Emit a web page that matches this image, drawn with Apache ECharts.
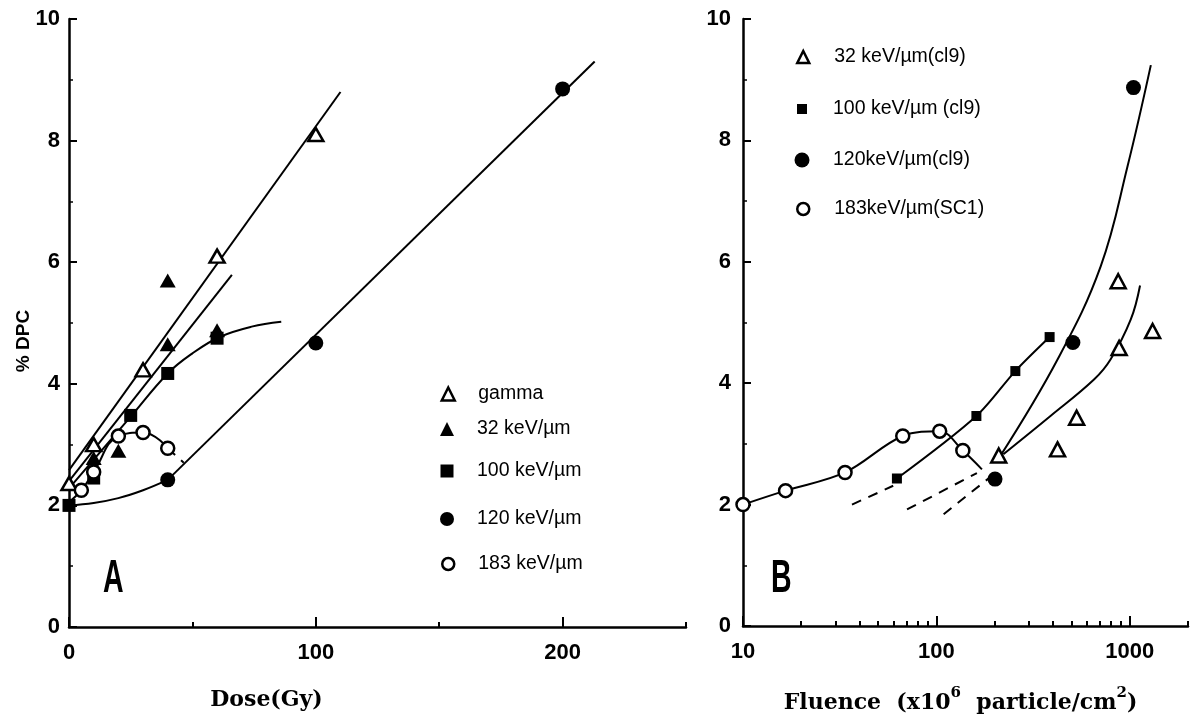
<!DOCTYPE html>
<html><head><meta charset="utf-8">
<script src="https://cdn.jsdelivr.net/npm/echarts@6/dist/echarts.min.js"></script>
<style>html,body{margin:0;padding:0;background:#fff}#c{width:1192px;height:719px}</style>
</head><body><div id="c"></div>
<script>
// ---------- Panel A : % DPC vs Dose (Gy) ----------
const xTicksA = [0, 100, 200];
const yTicks = [0, 2, 4, 6, 8, 10];
const gammaA  = [[0,2.36],[10,3.0],[30,4.23],[60,6.1],[100,8.1]];
const kev32A  = [[10,2.78],[20,2.9],[40,4.65],[40,5.7],[60,4.88]];
const kev100A = [[0,2.0],[10,2.45],[25,3.48],[40,4.17],[60,4.75]];
const kev120A = [[40,2.42],[100,4.67],[200,8.85]];
const kev183A = [[5,2.25],[10,2.55],[20,3.14],[30,3.2],[40,2.94]];
// fitted curves, panel A
const gammaFitA   = [[0,2.58],[110,8.8]];
const kev32FitA   = [[0,2.4],[66,5.79]];
const kev100FitA  = [[0,2.28],[25,3.46],[40,4.17],[50,4.5],[61,4.77],[74,4.94],[86,5.02]];
const kev120CurveA = [[0,2.0],[10,2.04],[20,2.12],[30,2.25],[40,2.42]];
const kev120LineA  = [[40,2.42],[213,9.3]];
const kev183FitA  = [[0,2.05],[5,2.25],[10,2.55],[20,3.14],[30,3.2],[40,2.94]];
const kev183DashA = [[40,2.94],[46.5,2.7]];

// ---------- Panel B : % DPC vs Fluence ----------
const xTicksB = [10, 100, 1000];
const xMinorTicksB = [20,30,40,50,60,70,80,90,200,300,400,500,600,700,800,900,2000];
const kev32B  = [[210,2.81],[423,2.91],[531,3.43],[871,5.68],[881,4.58],[1312,4.86]];
const kev100B = [[62.5,2.43],[161,3.46],[256,4.2],[385,4.76]];
const kev120B = [[201,2.42],[508,4.67],[1045,8.87]];
const kev183B = [[10,2.0],[16.6,2.23],[33.7,2.53],[67,3.13],[104,3.21],[137,2.89]];
// fitted curves, panel B
const kev183FitB  = [[10,2.0],[16.6,2.23],[33.7,2.53],[67,3.13],[104,3.21],[137,2.89],[172,2.58]];
const kev100FitB  = [[62.5,2.43],[161,3.46],[256,4.2],[385,4.76]];
const kev100DashB = [[36.6,2.0],[59.8,2.31]];
const kev32FitB   = [[222,2.83],[389,3.46],[653,4.06],[795,4.39],[1012,5.05],[1130,5.61]];
const kev32DashB  = [[70.5,1.92],[162,2.52]];
const kev120FitB  = [[214,2.8],[423,4.39],[708,5.93],[973,7.57],[1285,9.24]];
const kev120DashB = [[109,1.84],[198,2.5]];

const TICKFONT = 'Liberation Sans';
const chart = echarts.init(document.getElementById('c'));

function yAxisCfg(grid, margin, withName) {
  const a = {
    type:'value', gridIndex:grid, min:0, max:10, interval:2,
    axisLine:{show:true, lineStyle:{color:'#000', width:2.5}},
    axisTick:{show:true, inside:true, length:8, lineStyle:{color:'#000', width:2}},
    minorTick:{show:true, splitNumber:2, length:4, lineStyle:{color:'#000', width:1.5}},
    splitLine:{show:false}, minorSplitLine:{show:false},
    axisLabel:{margin:margin, color:'#000', fontFamily:TICKFONT, fontWeight:'bold', fontSize:22}
  };
  if (withName) {
    a.name = '% DPC';
    a.nameLocation = 'middle';
    a.nameRotate = 90;
    a.nameGap = 36;
    a.nameMoveOverlap = false;
    a.nameTextStyle = {color:'#000', fontFamily:'Liberation Sans', fontWeight:'bold', fontSize:19, padding:[0,36,0,0]};
  }
  return a;
}
const lineBase = {color:'#000', width:2};
function fit(name, data, x, y, opts) {
  return Object.assign({
    type:'line', name:name, data:data, xAxisIndex:x, yAxisIndex:y,
    showSymbol:false, symbol:'none', silent:true, z:2,
    lineStyle:Object.assign({}, lineBase), smooth:false
  }, opts || {});
}
function dots(name, data, x, y, symbol, size, open) {
  return {
    type:'scatter', name:name, data:data, xAxisIndex:x, yAxisIndex:y,
    symbol:symbol, symbolSize:size, z:5,
    itemStyle: open ? {color:'#fff', borderColor:'#000', borderWidth:2.5, opacity:1}
                    : {color:'#000', borderWidth:0, opacity:1}
  };
}
const dashed = {color:'#000', width:2, type:[10,8]};

function legendItem(name, icon, centerX, textX, centerY, size, open) {
  return {
    show:true, left:centerX - size/2, top:centerY - 8, orient:'vertical', padding:0,
    selectedMode:false, itemWidth:size, itemHeight:size,
    textStyle:{color:'#000', fontFamily:'Liberation Sans', fontSize:19.5,
               padding:[0,0,0, textX - (centerX + size/2 + 5)]},
    data:[{name:name, icon:icon,
      itemStyle: open ? {color:'#fff', borderColor:'#000', borderWidth:2.5, opacity:1}
                      : {color:'#000', borderWidth:0, opacity:1}}]
  };
}

const option = {
  backgroundColor:'#fff',
  animation:false,
  grid:[
    {left:69, top:19, width:617, height:608},
    {left:743, top:19, width:445, height:608}
  ],
  xAxis:[
    {type:'value', gridIndex:0, min:0, max:250, interval:50,
     axisLine:{show:true, onZero:false, lineStyle:{color:'#000', width:2.5}},
     axisTick:{show:true, inside:true, length:5, lineStyle:{color:'#000', width:2}},
     axisLabel:{customValues:xTicksA, margin:15, color:'#000', fontFamily:TICKFONT, fontWeight:'bold', fontSize:22},
     splitLine:{show:false},
     name:'Dose(Gy)', nameLocation:'middle', nameGap:62,
     nameTextStyle:{color:'#000', fontFamily:'DejaVu Serif', fontWeight:'bold', fontSize:22, padding:[0,222,0,0]}},
    {type:'value', gridIndex:0, min:0, max:250, interval:50, position:'bottom', offset:0,
     axisLine:{show:false},
     axisTick:{show:true, inside:true, length:10, customValues:xTicksA, lineStyle:{color:'#000', width:2}},
     axisLabel:{show:false}, splitLine:{show:false}},
    {type:'log', logBase:10, gridIndex:1, min:10, max:2000,
     axisLine:{show:true, onZero:false, lineStyle:{color:'#000', width:2.5}},
     axisTick:{show:true, inside:true, length:5, customValues:xMinorTicksB, lineStyle:{color:'#000', width:2}},
     axisLabel:{customValues:xTicksB, formatter:function(v){return String(v);}, margin:15, color:'#000', fontFamily:TICKFONT, fontWeight:'bold', fontSize:22},
     splitLine:{show:false}, minorSplitLine:{show:false},
     name:'Fluence  (x10{sup|6}  particle/cm{sup|2})', nameLocation:'middle', nameGap:60,
     nameTextStyle:{color:'#000', fontFamily:'DejaVu Serif', fontWeight:'bold', fontSize:22, padding:[0,10,0,0],
       rich:{sup:{fontFamily:'DejaVu Serif', fontWeight:'bold', fontSize:15, verticalAlign:'top', lineHeight:34, color:'#000'}}}},
    {type:'log', logBase:10, gridIndex:1, min:10, max:2000, position:'bottom', offset:0,
     axisLine:{show:false},
     axisTick:{show:true, inside:true, length:10, customValues:xTicksB, lineStyle:{color:'#000', width:2}},
     axisLabel:{show:false}, splitLine:{show:false}}
  ],
  yAxis:[ yAxisCfg(0, 9, true), yAxisCfg(1, 12, false) ],
  legend:[
    legendItem('gamma', 'triangle', 447, 477, 392, 13, true),
    legendItem('32 keV/µm', 'triangle', 447, 477, 427, 14, false),
    legendItem('100 keV/µm', 'rect', 447, 477, 469, 13, false),
    legendItem('120 keV/µm', 'circle', 447, 477, 517, 14, false),
    legendItem('183 keV/µm', 'circle', 447, 477, 562, 12, true),
    legendItem('32 keV/µm(cl9)', 'triangle', 802, 833, 55, 12, true),
    legendItem('100 keV/µm (cl9)', 'rect', 802, 833, 107, 10, false),
    legendItem('120keV/µm(cl9)', 'circle', 802, 833, 158, 15, false),
    legendItem('183keV/µm(SC1)', 'circle', 802, 833, 207, 12, true)
  ],
  graphic:[
    {type:'text', x:103, y:556, scaleX:0.62, silent:true,
     style:{text:'A', fontFamily:'Liberation Sans', fontWeight:'bold', fontSize:46, fill:'#000', verticalAlign:'top'}},
    {type:'text', x:771, y:556, scaleX:0.62, silent:true,
     style:{text:'B', fontFamily:'Liberation Sans', fontWeight:'bold', fontSize:46, fill:'#000', verticalAlign:'top'}}
  ],
  series:[
    // panel A fits
    fit('fitGammaA', gammaFitA, 0, 0),
    fit('fit32A', kev32FitA, 0, 0),
    fit('fit100A', kev100FitA, 0, 0, {smooth:0.4}),
    fit('fit120cA', kev120CurveA, 0, 0, {smooth:0.4}),
    fit('fit120lA', kev120LineA, 0, 0),
    fit('fit183A', kev183FitA, 0, 0, {smooth:0.45}),
    fit('dash183A', kev183DashA, 0, 0, {lineStyle:dashed}),
    // panel A points
    dots('gamma', gammaA, 0, 0, 'triangle', [15,13], true),
    dots('32 keV/µm', kev32A, 0, 0, 'triangle', [16,14], false),
    dots('100 keV/µm', kev100A, 0, 0, 'rect', 13, false),
    dots('120 keV/µm', kev120A, 0, 0, 'circle', 15, false),
    dots('183 keV/µm', kev183A, 0, 0, 'circle', 13, true),
    // panel B fits
    fit('fit183B', kev183FitB, 2, 1, {smooth:0.35}),
    fit('fit100B', kev100FitB, 2, 1, {smooth:0.3}),
    fit('dash100B', kev100DashB, 2, 1, {lineStyle:dashed}),
    fit('fit32B', kev32FitB, 2, 1, {smooth:0.4}),
    fit('dash32B', kev32DashB, 2, 1, {lineStyle:dashed}),
    fit('fit120B', kev120FitB, 2, 1, {smooth:0.4}),
    fit('dash120B', kev120DashB, 2, 1, {lineStyle:dashed}),
    // panel B points
    dots('32 keV/µm(cl9)', kev32B, 2, 1, 'triangle', [15,14], true),
    dots('100 keV/µm (cl9)', kev100B, 2, 1, 'rect', 10, false),
    dots('120keV/µm(cl9)', kev120B, 2, 1, 'circle', 15, false),
    dots('183keV/µm(SC1)', kev183B, 2, 1, 'circle', 13, true)
  ]
};
chart.setOption(option);
</script></body></html>
